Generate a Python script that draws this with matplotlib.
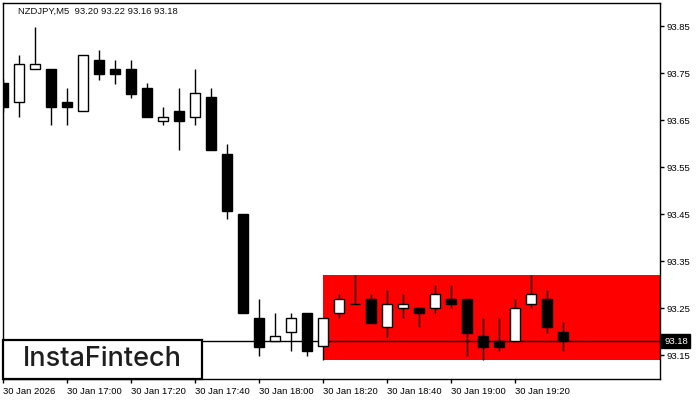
import matplotlib
matplotlib.use("Agg")
import matplotlib.pyplot as plt
from matplotlib.patches import Rectangle
import matplotlib.transforms as mtransforms

# ---- data ----
opens  = [93.729, 93.688, 93.759, 93.759, 93.688, 93.669, 93.778, 93.759, 93.759, 93.718,
          93.648, 93.669, 93.658, 93.699, 93.578, 93.451, 93.229, 93.180, 93.199, 93.239,
          93.170, 93.239, 93.260, 93.269, 93.210, 93.250, 93.250, 93.250, 93.269, 93.269,
          93.191, 93.180, 93.180, 93.260, 93.269, 93.200]
highs  = [93.737, 93.789, 93.849, 93.759, 93.718, 93.789, 93.800, 93.778, 93.778, 93.730,
          93.678, 93.718, 93.759, 93.718, 93.600, 93.451, 93.270, 93.239, 93.239, 93.239,
          93.229, 93.280, 93.321, 93.280, 93.290, 93.280, 93.250, 93.300, 93.300, 93.269,
          93.229, 93.229, 93.270, 93.321, 93.290, 93.220]
lows   = [93.668, 93.658, 93.759, 93.639, 93.639, 93.669, 93.736, 93.727, 93.698, 93.658,
          93.639, 93.587, 93.639, 93.587, 93.439, 93.239, 93.149, 93.180, 93.160, 93.149,
          93.140, 93.229, 93.260, 93.219, 93.190, 93.229, 93.210, 93.239, 93.250, 93.149,
          93.139, 93.160, 93.180, 93.250, 93.198, 93.160]
closes = [93.678, 93.769, 93.769, 93.678, 93.678, 93.789, 93.748, 93.748, 93.706, 93.658,
          93.658, 93.648, 93.707, 93.587, 93.458, 93.239, 93.168, 93.191, 93.229, 93.160,
          93.229, 93.269, 93.260, 93.219, 93.260, 93.260, 93.239, 93.280, 93.260, 93.198,
          93.168, 93.168, 93.250, 93.280, 93.210, 93.180]

time_labels = ["30 Jan 2026", "30 Jan 17:00", "30 Jan 17:20", "30 Jan 17:40", "30 Jan 18:00",
               "30 Jan 18:20", "30 Jan 18:40", "30 Jan 19:00", "30 Jan 19:20"]
price_ticks = [93.15, 93.25, 93.35, 93.45, 93.55, 93.65, 93.75, 93.85]

zone_start = 20
zone_low, zone_high = 93.14, 93.32
last_price = 93.18
title = "NZDJPY,M5  93.20 93.22 93.16 93.18"

# ---- figure ----
font = "Liberation Sans"
fig = plt.figure(figsize=(7, 4), dpi=100)
ax = fig.add_axes([3/700, 1 - 379/400, 657/700, 376.5/400])
xmin, xmax = -0.02, 41.04
ax.set_xlim(xmin, xmax)
ax.set_ylim(93.0996, 93.9006)

ax.add_patch(Rectangle((zone_start, zone_low), xmax - zone_start, zone_high - zone_low,
                       facecolor="#ff0000", edgecolor="none", zorder=1))
ax.axhline(last_price, color="black", lw=1, zorder=2)

x = list(range(len(opens)))
ax.vlines(x, lows, highs, color="black", lw=1, zorder=3)
for i, (o, c) in enumerate(zip(opens, closes)):
    bull = c >= o
    bottom = min(o, c)
    h = abs(c - o)
    ax.bar(i, h, bottom=bottom, width=0.64,
           color="white" if bull else "black", edgecolor="black", lw=1, zorder=4)

# axes styling
for s in ax.spines.values():
    s.set_color("black")
    s.set_linewidth(1)
ax.yaxis.tick_right()
ax.set_yticks(price_ticks)
ax.set_yticklabels([f"{p:.2f}" for p in price_ticks], fontfamily=font, fontsize=6.8)
ax.tick_params(axis="y", direction="out", length=3, pad=2, width=1)
ax.set_xticks(list(range(0, 33, 4)))
ax.set_xticklabels(time_labels, fontfamily=font, fontsize=6.8)
ax.tick_params(axis="x", direction="out", length=3, pad=3, width=1)
for lbl in ax.get_xticklabels():
    lbl.set_horizontalalignment("left")

# price label box
trans = mtransforms.blended_transform_factory(ax.transAxes, ax.transData)
ax.text(1.0 + 4/657, last_price, "93.18", transform=trans, ha="left", va="center",
        fontsize=6.8, fontfamily=font, color="white",
        bbox=dict(boxstyle="square,pad=0.28", facecolor="black", edgecolor="black"),
        clip_on=False, zorder=10)

fig.text(18/700, 1 - 11/400, title, fontfamily=font, fontsize=6.8, va="center", ha="left",
         color="#111111")

# logo
fig.patches.append(Rectangle((3/700, 1 - 378.5/400), 198.5/700, 39/400, transform=fig.transFigure,
                             facecolor="white", edgecolor="black", lw=1.6, zorder=20))
fig.text(101.9/700, 1 - 359.5/400, "InstaFintech", fontfamily="Inter", fontweight="medium",
         fontsize=19.5, ha="center", va="center", color="#1e1e1e", zorder=21)

fig.savefig("out.png", dpi=100)
